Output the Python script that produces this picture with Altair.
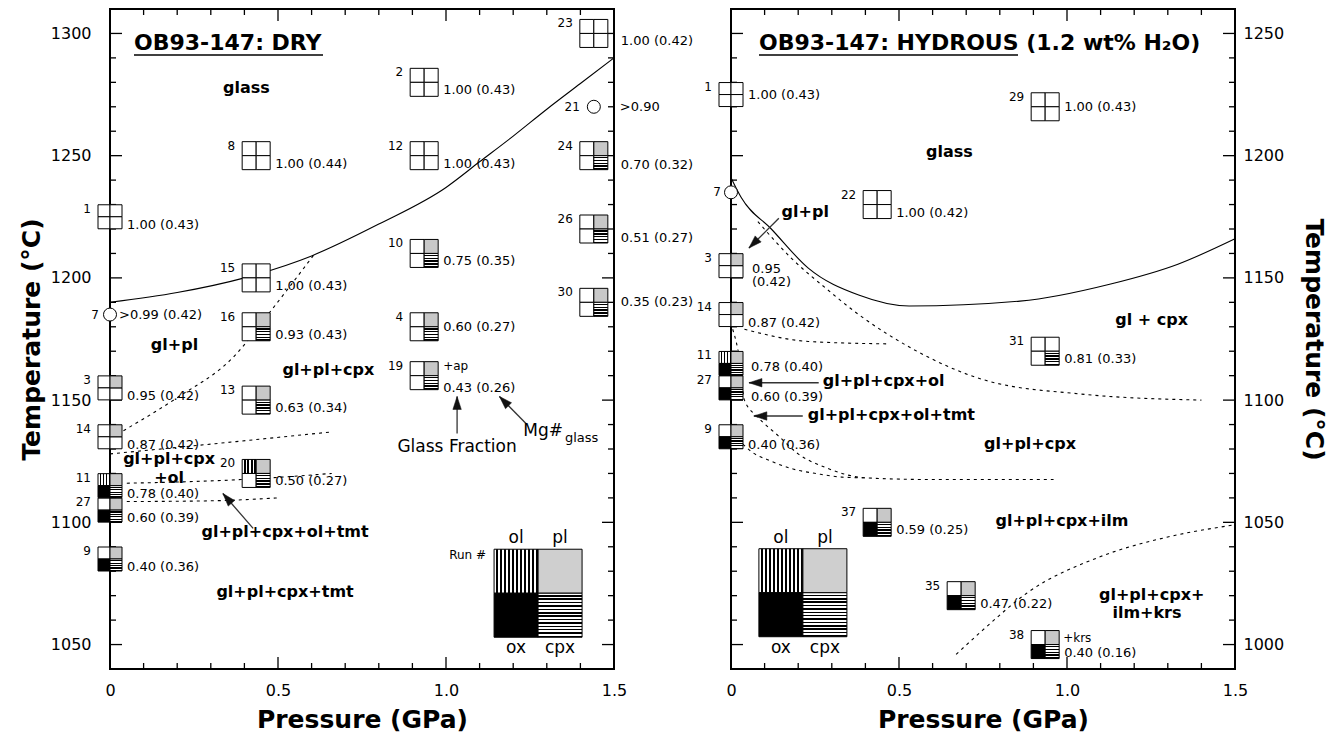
import math
import altair as alt
import pandas as pd

# ---------------- DRY panel data ----------------
dry_run = [1, 8, 15, 16, 2, 12, 10, 4, 19, 23, 24, 26, 30, 3, 13, 14, 20, 11, 27, 9]
dry_P = [0.0, 0.435, 0.435, 0.435, 0.935, 0.935, 0.935, 0.935, 0.935, 1.44, 1.44, 1.44, 1.44,
         0.0, 0.435, 0.0, 0.435, 0.0, 0.0, 0.0]
dry_T = [1225, 1250, 1200, 1180, 1280, 1250, 1210, 1180, 1160, 1300, 1250, 1220, 1190,
         1155, 1150, 1135, 1120, 1115, 1105, 1085]
dry_phase = ["", "", "", "pl cpx", "", "", "pl cpx", "pl cpx", "pl cpx", "", "pl cpx", "pl cpx", "pl cpx",
             "pl", "pl cpx", "pl", "ol pl cpx", "ol pl ox cpx", "pl ox cpx", "pl ox cpx"]
dry_label = ["1.00 (0.43)", "1.00 (0.44)", "1.00 (0.43)", "0.93 (0.43)", "1.00 (0.43)", "1.00 (0.43)",
             "0.75 (0.35)", "0.60 (0.27)", "0.43 (0.26)", "1.00 (0.42)", "0.70 (0.32)", "0.51 (0.27)",
             "0.35 (0.23)", "0.95 (0.42)", "0.63 (0.34)", "0.87 (0.42)", "0.50 (0.27)", "0.78 (0.40)",
             "0.60 (0.39)", "0.40 (0.36)"]
dry_circle_run = [7, 21]
dry_circle_P = [0.0, 1.44]
dry_circle_T = [1185, 1270]
dry_circle_label = [">0.99 (0.42)", ">0.90"]

dry_liq_P = [0.0, 0.2, 0.4, 0.6, 0.8, 1.0, 1.1, 1.2, 1.3, 1.4, 1.5]
dry_liq_T = [1190, 1194, 1200, 1209, 1222, 1237, 1247.5, 1258, 1269, 1279.5, 1290]
dry_cpx_P = [0.04, 0.2, 0.37, 0.47, 0.61]
dry_cpx_T = [1137.5, 1151, 1168, 1185, 1210]
dry_ol_P = [0.0, 0.3, 0.66]
dry_ol_T = [1128, 1132, 1137]
dry_tmt1_P = [0.05, 0.39, 0.66]
dry_tmt1_T = [1116, 1117.5, 1120]
dry_tmt2_P = [0.05, 0.3, 0.5]
dry_tmt2_T = [1108.5, 1108.8, 1110]

dry_region_text = ["glass", "gl+pl", "gl+pl+cpx", "gl+pl+cpx", "+ol", "gl+pl+cpx+ol+tmt", "gl+pl+cpx+tmt"]
dry_region_P = [0.406, 0.192, 0.650, 0.176, 0.176, 0.521, 0.521]
dry_region_T = [1277.7, 1172.5, 1162.5, 1125.8, 1118.1, 1096.2, 1071.7]

dry_arrow_P0 = [1.033, 1.238, 0.426]
dry_arrow_T0 = [1136.3, 1140.4, 1097.5]
dry_arrow_P1 = [1.033, 1.159, 0.336]
dry_arrow_T1 = [1151.5, 1151.5, 1111.8]

# ---------------- HYDROUS panel data ----------------
hyd_run = [1, 22, 29, 3, 14, 31, 11, 27, 9, 37, 35, 38]
hyd_P = [0.0, 0.435, 0.935, 0.0, 0.0, 0.935, 0.0, 0.0, 0.0, 0.435, 0.685, 0.935]
hyd_T = [1225, 1180, 1220, 1155, 1135, 1120, 1115, 1105, 1085, 1050, 1020, 1000]
hyd_phase = ["", "", "", "pl", "pl", "cpx", "ol pl ox cpx", "pl ox cpx", "pl ox cpx", "pl ox cpx",
             "pl ox cpx", "pl ox cpx"]
hyd_label = ["1.00 (0.43)", "1.00 (0.42)", "1.00 (0.43)", "0.95 (0.42)", "0.87 (0.42)", "0.81 (0.33)",
             "0.78 (0.40)", "0.60 (0.39)", "0.40 (0.36)", "0.59 (0.25)", "0.47 (0.22)", "0.40 (0.16)"]
hyd_circle_run = [7]
hyd_circle_P = [0.0]
hyd_circle_T = [1185]
hyd_circle_label = [""]

hyd_liq_P = [0.0, 0.03, 0.12, 0.23, 0.38, 0.53, 0.86, 1.13, 1.33, 1.5]
hyd_liq_T = [1191, 1183, 1170, 1154, 1143, 1138.5, 1140.5, 1147.5, 1155.6, 1166]
hyd_A_P = [0.08, 0.18, 0.28, 0.38, 0.54, 0.76, 1.04, 1.40]
hyd_A_T = [1173, 1158, 1146, 1135, 1121, 1108, 1102.5, 1100]
hyd_B_P = [0.04, 0.23, 0.47]
hyd_B_T = [1129, 1124, 1123]
hyd_C1_P = [0.005, 0.025, 0.04, 0.08, 0.14, 0.2, 0.28, 0.4, 0.6, 0.96]
hyd_C1_T = [1129, 1117, 1100, 1093, 1085.5, 1078, 1072.5, 1068.2, 1067.5, 1067.5]
hyd_C2_P = [0.035, 0.06, 0.12, 0.18, 0.26, 0.33, 0.4]
hyd_C2_T = [1082, 1079, 1075, 1072, 1069.8, 1068.5, 1068.2]
hyd_D_P = [0.67, 0.75, 0.88, 1.1, 1.3, 1.5]
hyd_D_T = [996, 1006, 1021, 1036, 1044, 1049]

hyd_region_text = ["glass", "gl+pl", "gl + cpx", "gl+pl+cpx+ol", "gl+pl+cpx+ol+tmt", "gl+pl+cpx",
                   "gl+pl+cpx+ilm", "gl+pl+cpx+", "ilm+krs"]
hyd_region_P = [0.65, 0.221, 1.252, 0.273, 0.2285, 0.89, 0.985, 1.252, 1.238]
hyd_region_T = [1201.4, 1176.9, 1132.8, 1107.8, 1094.0, 1082.0, 1050.7, 1020.2, 1012.9]
hyd_region_align = ["center", "center", "center", "left", "left", "center", "center", "center", "center"]

hyd_arrow_P0 = [0.1424, 0.261, 0.2136]
hyd_arrow_T0 = [1174.4, 1107.1, 1093.5]
hyd_arrow_P1 = [0.0534, 0.0534, 0.068]
hyd_arrow_T1 = [1162.2, 1107.1, 1093.5]

legend_P = [1.274, 0.214]
legend_T = [1071.0, 1021.2]

# ---------------- layout / style ----------------
W, H = 504, 660
P_DOM = [0, 1.5]
PXG = W / 1.5
PXT = H / 270.0
FONT = "DejaVu Sans"
QUADS = [("ol", -1, -1), ("pl", 1, -1), ("ox", -1, 1), ("cpx", 1, 1)]


def stripes(n, horizontal_lines, frac=0.5):
    stops = []
    for i in range(n):
        a, b, c = i / n, (i + frac) / n, (i + 1) / n
        stops += [alt.GradientStop(offset=a, color="white"), alt.GradientStop(offset=b, color="white"),
                  alt.GradientStop(offset=b, color="black"), alt.GradientStop(offset=c, color="black")]
    if horizontal_lines:
        return alt.LinearGradient(gradient="linear", stops=stops, x1=0, y1=0, x2=0, y2=1)
    return alt.LinearGradient(gradient="linear", stops=stops, x1=0, y1=0, x2=1, y2=0)


FILL_SMALL = {"empty": "white", "ol": stripes(4, False), "pl": "#c8c8c8", "ox": "black",
              "cpx": stripes(5, True)}
FILL_LEG = {"ol": stripes(11, False, 0.6), "pl": "#cfcfcf", "ox": "black", "cpx": stripes(13, True, 0.55)}

XAXIS = alt.Axis(values=[0, 0.5, 1.0, 1.5],
                 labelExpr="datum.value == 0 ? '0' : format(datum.value, '.1f')",
                 ticks=False, domain=False, grid=False, labelPadding=13, titlePadding=9,
                 labelFontSize=16, titleFontSize=25, titleFontWeight="bold", labelFont=FONT,
                 titleFont=FONT, labelColor="black", titleColor="black", labelFlush=False)


def yaxis(orient, values, lp, tp):
    return alt.Axis(values=values, orient=orient, format="d", ticks=False, domain=False, grid=False,
                    labelPadding=lp, titlePadding=tp, labelFontSize=16, titleFontSize=25,
                    titleFontWeight="bold", labelFont=FONT, titleFont=FONT, labelColor="black",
                    titleColor="black", labelFlush=False)


def panel(c):
    ydom = c["ydom"]

    def X(f):
        return alt.X(f, type="quantitative", scale=alt.Scale(domain=P_DOM, nice=False, zero=False),
                     axis=XAXIS, title="Pressure (GPa)")

    def Y(f):
        return alt.Y(f, type="quantitative", scale=alt.Scale(domain=ydom, nice=False, zero=False),
                     axis=c["yaxis"], title="Temperature (°C)")

    L = []
    # inward ticks
    xmaj = [0.5, 1.0]
    xmin = [i / 10 for i in range(1, 15) if i % 5]
    ymaj = c["ymajor"]
    ymin = [v for v in range(ydom[0] + 10, ydom[1], 10) if v not in ymaj]
    for vals, ln in ((xmaj, 12), (xmin, 6)):
        base = alt.Chart(pd.DataFrame({"v": vals})).mark_rule(color="black", strokeWidth=1.3)
        L.append(base.encode(x=X("v"), y=alt.value(H), y2=alt.value(H - ln)))
        L.append(base.encode(x=X("v"), y=alt.value(0), y2=alt.value(ln)))
    for vals, ln in ((ymaj, 12), (ymin, 6)):
        base = alt.Chart(pd.DataFrame({"v": vals})).mark_rule(color="black", strokeWidth=1.3)
        L.append(base.encode(y=Y("v"), x=alt.value(0), x2=alt.value(ln)))
        L.append(base.encode(y=Y("v"), x=alt.value(W), x2=alt.value(W - ln)))

    # boundary curves
    for cp, ct, dashed in c["curves"]:
        kw = dict(color="black", strokeWidth=1.1, interpolate="monotone")
        if dashed:
            kw["strokeDash"] = [3, 4]
        L.append(alt.Chart(pd.DataFrame({"p": cp, "t": ct})).mark_line(**kw).encode(x=X("p"), y=Y("t")))

    # arrows
    a = c["arrows"]
    L.append(alt.Chart(pd.DataFrame({"p0": a[0], "t0": a[1], "p1": a[2], "t1": a[3]}))
             .mark_rule(color="#333", strokeWidth=1.3)
             .encode(x=X("p0"), y=Y("t0"), x2="p1:Q", y2="t1:Q"))
    hp, ht, ha = [], [], []
    r = 6.5
    for p0, t0, p1, t1 in zip(*a):
        dx = (p1 - p0) * PXG
        dy = -(t1 - t0) * PXT
        n = math.hypot(dx, dy)
        ux, uy = dx / n, dy / n
        hp.append(p1 - ux * r / PXG)
        ht.append(t1 + uy * r / PXT)
        ha.append(math.degrees(math.atan2(ux, -uy)) % 360)
    L.append(alt.Chart(pd.DataFrame({"p": hp, "t": ht, "ang": ha}))
             .mark_point(shape="M0,-1L0.65,1L-0.65,1Z", size=169, filled=True, fill="#111",
                         stroke="#111", strokeWidth=0.5, opacity=1)
             .encode(x=X("p"), y=Y("t"), angle=alt.Angle("ang:Q", scale=None)))

    # run squares
    rows = []
    for rn, p, t, ph in zip(c["run"], c["P"], c["T"], c["phase"]):
        q = 12 if p == 0 else 14
        for name, sx, sy in QUADS:
            rows.append({"x": p + sx * q / 2 / PXG, "y": t - sy * q / 2 / PXT, "sz": q * q,
                         "kind": name if name in ph.split() else "empty"})
    qdf = pd.DataFrame(rows)
    for k, fill in FILL_SMALL.items():
        sub = qdf[qdf.kind == k]
        if len(sub) == 0:
            continue
        L.append(alt.Chart(sub).mark_square(fill=fill, stroke="black", strokeWidth=1, opacity=1,
                                            fillOpacity=1)
                 .encode(x=X("x"), y=Y("y"), size=alt.Size("sz:Q", scale=None, legend=None)))

    # circles
    L.append(alt.Chart(pd.DataFrame({"p": c["cP"], "t": c["cT"]}))
             .mark_circle(size=169, fill="white", stroke="black", strokeWidth=1, opacity=1)
             .encode(x=X("p"), y=Y("t")))

    # labels (run numbers, glass fraction)
    num_rows, val_rows = [], []
    for rn, p, t, lab in zip(c["run"], c["P"], c["T"], c["label"]):
        half = 12 if p == 0 else 14
        ndx, ndy = -(half + 7), -(half - 4)
        num_rows.append({"x": p + ndx / PXG, "y": t - ndy / PXT, "s": str(rn)})
        if rn in c["multi"]:
            for (dx, dy), part in zip(c["multi"][rn], lab.split(" ")):
                val_rows.append({"x": p + dx / PXG, "y": t - dy / PXT, "s": part})
            continue
        dx, dy = c["lab_ovr"].get(rn, (half + 5, 8))
        val_rows.append({"x": p + dx / PXG, "y": t - dy / PXT, "s": lab})
    for rn, p, t, lab, ndx, ldx in zip(c["crun"], c["cP"], c["cT"], c["clabel"], c["c_ndx"], c["c_ldx"]):
        num_rows.append({"x": p + ndx / PXG, "y": t, "s": str(rn)})
        if lab:
            val_rows.append({"x": p + ldx / PXG, "y": t, "s": lab})
    L.append(alt.Chart(pd.DataFrame(num_rows)).mark_text(font=FONT, fontSize=12, align="right",
                                                         baseline="middle", color="black")
             .encode(x=X("x"), y=Y("y"), text="s:N"))
    L.append(alt.Chart(pd.DataFrame(val_rows)).mark_text(font=FONT, fontSize=13, align="left",
                                                         baseline="middle", color="black")
             .encode(x=X("x"), y=Y("y"), text="s:N"))
    ex_rows = []
    for rn, (s, dx, dy) in c["extra"].items():
        i = c["run"].index(rn)
        ex_rows.append({"x": c["P"][i] + dx / PXG, "y": c["T"][i] - dy / PXT, "s": s})
    L.append(alt.Chart(pd.DataFrame(ex_rows)).mark_text(font=FONT, fontSize=12, align="left",
                                                        baseline="middle", color="black")
             .encode(x=X("x"), y=Y("y"), text="s:N"))

    # region labels
    rdf = pd.DataFrame({"s": c["rtext"], "x": c["rP"], "y": c["rT"], "al": c["ralign"]})
    for al in ("center", "left"):
        sub = rdf[rdf.al == al]
        if len(sub) == 0:
            continue
        L.append(alt.Chart(sub).mark_text(font=FONT, fontSize=16, fontWeight="bold", align=al,
                                          baseline="middle", color="black")
                 .encode(x=X("x"), y=Y("y"), text="s:N"))

    # legend square
    lp, lt = c["leg"]
    lrows = []
    for name, sx, sy in QUADS:
        lrows.append({"x": lp + sx * 22 / PXG, "y": lt - sy * 22 / PXT, "kind": name})
    ldf = pd.DataFrame(lrows)
    for k, fill in FILL_LEG.items():
        L.append(alt.Chart(ldf[ldf.kind == k]).mark_square(size=44 * 44, fill=fill, stroke="black",
                                                          strokeWidth=1, opacity=1, fillOpacity=1)
                 .encode(x=X("x"), y=Y("y")))
    lt_rows = [{"s": "ol", "dx": -22, "dy": -55}, {"s": "pl", "dx": 22, "dy": -55},
               {"s": "ox", "dx": -22, "dy": 55}, {"s": "cpx", "dx": 22, "dy": 55}]
    ltd = pd.DataFrame([{"s": d["s"], "x": lp + d["dx"] / PXG, "y": lt - d["dy"] / PXT} for d in lt_rows])
    L.append(alt.Chart(ltd).mark_text(font=FONT, fontSize=17, align="center", baseline="middle",
                                      color="black").encode(x=X("x"), y=Y("y"), text="s:N"))
    if c["runhash"]:
        L.append(alt.Chart(pd.DataFrame({"s": ["Run #"], "x": [lp - 52 / PXG], "y": [lt + 38 / PXT]}))
                 .mark_text(font=FONT, fontSize=12, align="right", baseline="middle", color="black")
                 .encode(x=X("x"), y=Y("y"), text="s:N"))

    # extra free annotations (data coordinates)
    for s, x, y, fs, al in c["notes"]:
        L.append(alt.Chart(pd.DataFrame({"s": [s], "x": [x], "y": [y]}))
                 .mark_text(font=FONT, fontSize=fs, align=al, baseline="middle", color="black")
                 .encode(x=X("x"), y=Y("y"), text="s:N"))

    # panel title with underline (pixel placement)
    L.append(alt.Chart(pd.DataFrame({"s": [c["title"]]}))
             .mark_text(font=FONT, fontSize=22, fontWeight="bold", align="left", baseline="alphabetic",
                        color="black")
             .encode(x=alt.value(c["title_x"]), y=alt.value(41), text="s:N"))
    L.append(alt.Chart(pd.DataFrame({"s": [1]})).mark_rule(color="black", strokeWidth=1.5)
             .encode(x=alt.value(c["title_x"]), x2=alt.value(c["title_x"] + c["ul_w"]),
                     y=alt.value(46)))

    return alt.layer(*L).properties(width=W, height=H)


dry_cfg = dict(
    ydom=[1040, 1310], ymajor=[1050, 1100, 1150, 1200, 1250, 1300],
    yaxis=yaxis("left", [1050, 1100, 1150, 1200, 1250, 1300], 19, 6),
    curves=[(dry_liq_P, dry_liq_T, False), (dry_cpx_P, dry_cpx_T, True), (dry_ol_P, dry_ol_T, True),
            (dry_tmt1_P, dry_tmt1_T, True), (dry_tmt2_P, dry_tmt2_T, True)],
    arrows=(dry_arrow_P0, dry_arrow_T0, dry_arrow_P1, dry_arrow_T1),
    run=dry_run, P=dry_P, T=dry_T, phase=dry_phase, label=dry_label,
    crun=dry_circle_run, cP=dry_circle_P, cT=dry_circle_T, clabel=dry_circle_label,
    c_ndx=[-11, -14], c_ldx=[9, 26],
    lab_ovr={23: (27, 8), 24: (27, 9), 26: (27, 9), 30: (27, 0), 4: (19, 0), 19: (19, 12)},
    multi={}, extra={19: ("+ap", 19, -10)},
    rtext=dry_region_text, rP=dry_region_P, rT=dry_region_T, ralign=["center"] * len(dry_region_text),
    leg=(legend_P[0], legend_T[0]), runhash=True,
    notes=[("Glass Fraction", 1.033, 1131.0, 17, "center"), ("Mg#", 1.348, 1137.4, 17, "right"),
           ("glass", 1.354, 1134.5, 13, "left")],
    title="OB93-147: DRY", title_x=24, ul_w=189,
)

hyd_cfg = dict(
    ydom=[990, 1260], ymajor=[1000, 1050, 1100, 1150, 1200, 1250],
    yaxis=yaxis("right", [1000, 1050, 1100, 1150, 1200, 1250], 8, 17),
    curves=[(hyd_liq_P, hyd_liq_T, False), (hyd_A_P, hyd_A_T, True), (hyd_B_P, hyd_B_T, True),
            (hyd_C1_P, hyd_C1_T, True), (hyd_C2_P, hyd_C2_T, True), (hyd_D_P, hyd_D_T, True)],
    arrows=(hyd_arrow_P0, hyd_arrow_T0, hyd_arrow_P1, hyd_arrow_T1),
    run=hyd_run, P=hyd_P, T=hyd_T, phase=hyd_phase, label=hyd_label,
    crun=hyd_circle_run, cP=hyd_circle_P, cT=hyd_circle_T, clabel=hyd_circle_label,
    c_ndx=[-10], c_ldx=[9],
    lab_ovr={1: (17, 0), 29: (19, 0), 11: (20, 4), 27: (20, 9)},
    multi={3: [(21, 3), (21, 16)]}, extra={38: ("+krs", 18, -7)},
    rtext=hyd_region_text, rP=hyd_region_P, rT=hyd_region_T, ralign=hyd_region_align,
    leg=(legend_P[1], legend_T[1]), runhash=False,
    notes=[],
    title="OB93-147: HYDROUS (1.2 wt% H₂O)", title_x=28, ul_w=259,
)

chart = (alt.hconcat(panel(dry_cfg), panel(hyd_cfg), spacing=117, bounds="flush")
         .properties(padding={"left": 18, "top": 7, "right": 5, "bottom": 2})
         .configure(font=FONT)
         .configure_view(stroke="black", strokeWidth=2))

chart.save("out.html", embed_options={"renderer": "svg", "actions": False})
